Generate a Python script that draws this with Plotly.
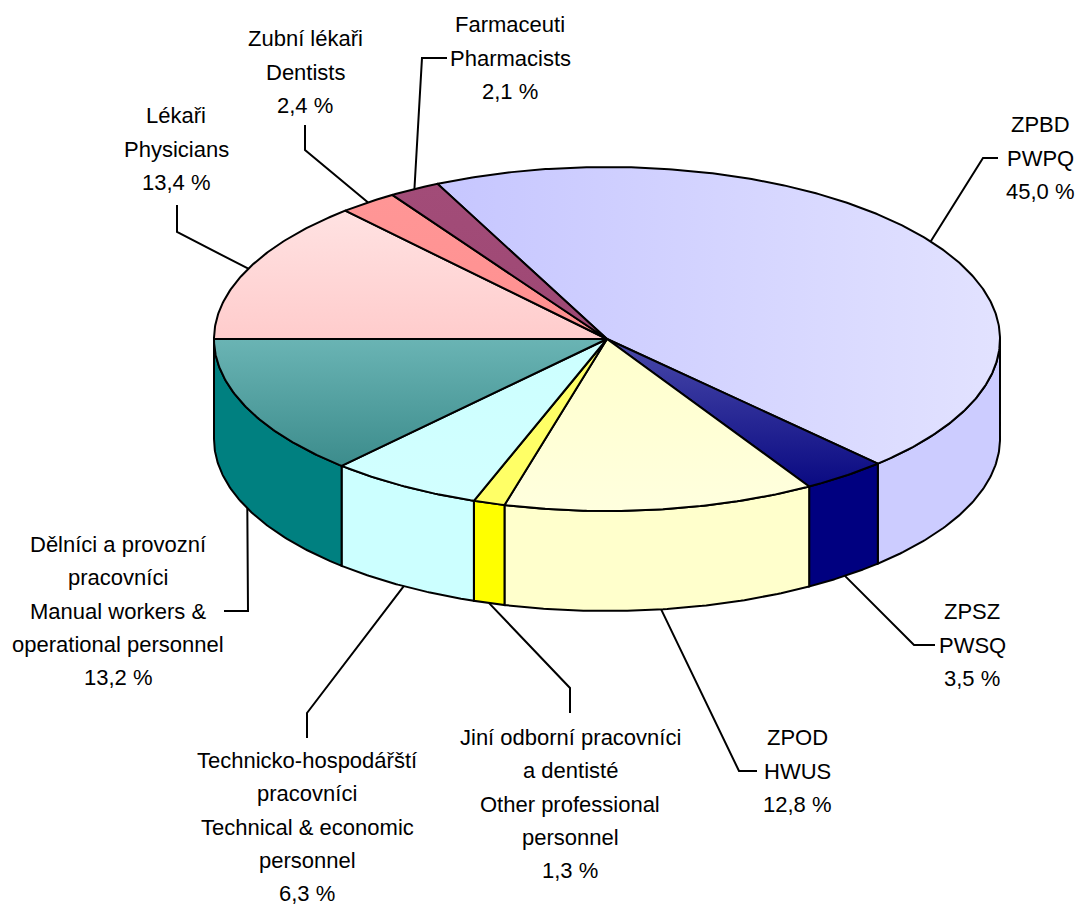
import numpy as np
import plotly.graph_objects as go

# slices, clockwise from the top
names = [
    ["ZPBD", "PWPQ"],
    ["ZPSZ", "PWSQ"],
    ["ZPOD", "HWUS"],
    ["Jiní odborní pracovníci", "a dentisté", "Other professional", "personnel"],
    ["Technicko-hospodářští", "pracovníci", "Technical & economic", "personnel"],
    ["Dělníci a provozní", "pracovníci", "Manual workers &", "operational personnel"],
    ["Lékaři", "Physicians"],
    ["Zubní lékaři", "Dentists"],
    ["Farmaceuti", "Pharmacists"],
]
shares = [45.0, 3.5, 12.8, 1.3, 6.3, 13.2, 13.4, 2.4, 2.1]

# colours: top face gradient (screen top/left -> bottom/right) and side wall
top_a = ["#C6C6FF", "#4A4AAA", "#FFFFCC", "#FFFF66", "#CCFFFF", "#6AB4B4", "#FFE2E2", "#FF9696", "#A24C78"]
top_b = ["#E2E2FF", "#0A0A82", "#FFFFDE", "#FFFF66", "#D2FFFF", "#3C8C8C", "#FFCCCC", "#FF9090", "#9E4874"]
grad_dir = ["horizontal", "vertical", "vertical", "vertical", "vertical", "vertical", "vertical", "vertical", "vertical"]
wall = ["#CCCCFF", "#000080", "#FFFFCC", "#FFFF00", "#CCFFFF", "#008080", "#FFCCCC", "#FF8080", "#993366"]

# label layout: text centre, elbow and end of the leader line
text_xy = [(1040, 158), (972, 645), (797, 771), (570, 804), (307, 827),
           (118, 611), (176, 149), (305, 72), (510, 58)]
elbow_xy = [(983, 158), (914, 645), (739, 771), (570, 688), (307, 713),
            (248, 611), (177, 232), (305, 150), (422, 58)]
end_xy = [(998, 158), (935, 645), (757, 771), (570, 713), (307, 738),
          (224, 611), (177, 205), (305, 125), (447, 58)]

CX, CY, RX, RY, DEPTH = 607, 339, 393, 172, 100
START = 334.44
LINE_H = 33.3
FONT = "Liberation Sans, Arial"


def ell(theta, dy=0.0):
    t = np.radians(theta)
    return CX + RX * np.sin(t), CY - RY * np.cos(t) + dy


fig = go.Figure()

bounds = START + np.concatenate([[0], np.cumsum(shares)]) * 3.6
spans = list(zip(bounds[:-1], bounds[1:]))

# front walls
for i, (a0, a1) in enumerate(spans):
    for lo, hi in [(90, 270), (450, 630)]:
        b0, b1 = max(a0, lo), min(a1, hi)
        if b1 <= b0:
            continue
        th = np.linspace(b0, b1, 80)
        xt, yt = ell(th)
        xb, yb = ell(th[::-1], DEPTH)
        fig.add_trace(go.Scatter(
            x=np.concatenate([xt, xb, xt[:1]]), y=np.concatenate([yt, yb, yt[:1]]),
            mode="lines", fill="toself", fillcolor=wall[i],
            line=dict(color="black", width=2), hoverinfo="skip"))

# top faces
for i, (a0, a1) in enumerate(spans):
    th = np.linspace(a0, a1, max(int((a1 - a0) * 2), 10))
    xs, ys = ell(th)
    # vertical gradients run from the screen bottom up
    if grad_dir[i] == "vertical":
        cs = [[0, top_b[i]], [1, top_a[i]]]
    else:
        cs = [[0, top_a[i]], [1, top_b[i]]]
    fig.add_trace(go.Scatter(
        x=np.concatenate([[CX], xs, [CX]]), y=np.concatenate([[CY], ys, [CY]]),
        mode="lines", fill="toself",
        fillgradient=dict(type=grad_dir[i], colorscale=cs),
        line=dict(color="black", width=2), hoverinfo="skip"))

# labels with leader lines
for i, (a0, a1) in enumerate(spans):
    mid = (a0 + a1) / 2
    front = np.cos(np.radians(mid)) < 0
    ax, ay = ell(mid, DEPTH if front else 0)
    fig.add_trace(go.Scatter(
        x=[ax, elbow_xy[i][0], end_xy[i][0]], y=[ay, elbow_xy[i][1], end_xy[i][1]],
        mode="lines", line=dict(color="black", width=2), hoverinfo="skip"))
    pct = f"{shares[i]:.1f}".replace(".", ",") + " %"
    lines = names[i] + [pct]
    for k, txt in enumerate(lines):
        fig.add_annotation(x=text_xy[i][0], y=text_xy[i][1] + (k - (len(lines) - 1) / 2) * LINE_H,
                           text=txt, showarrow=False, xanchor="center", yanchor="middle",
                           font=dict(family=FONT, size=22, color="black"))

fig.update_layout(
    width=1077, height=908, margin=dict(l=0, r=0, t=0, b=0),
    paper_bgcolor="white", plot_bgcolor="white", showlegend=False,
    xaxis=dict(range=[0, 1077], visible=False, fixedrange=True),
    yaxis=dict(range=[908, 0], visible=False, fixedrange=True),
)
fig.write_html("out.html", config={"displayModeBar": False},
               post_script="document.body.style.margin='0';")
